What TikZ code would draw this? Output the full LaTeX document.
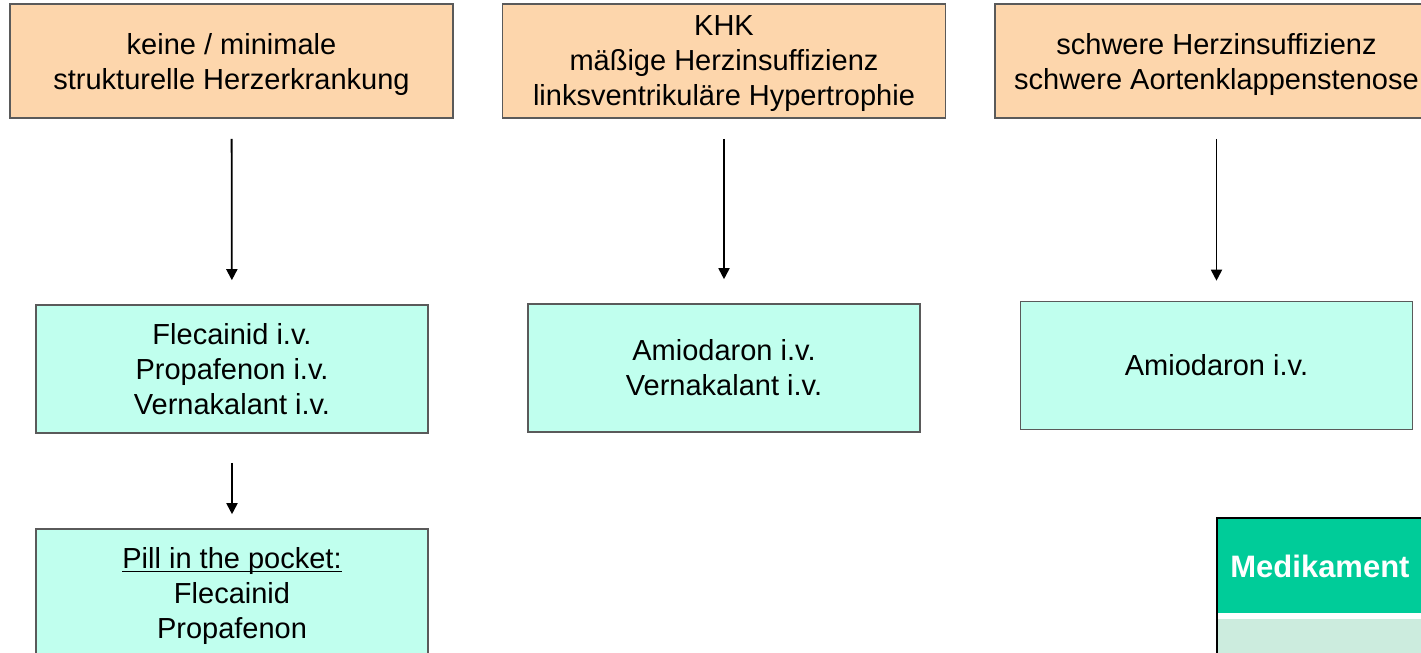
\documentclass[tikz,border=0pt]{standalone}
\usepackage{fontspec}
\setmainfont{Liberation Sans}
\usepackage{tikz}
\usetikzlibrary{arrows.meta,positioning,calc}
\definecolor{peach}{RGB}{253,214,172}
\definecolor{mint}{RGB}{192,255,238}
\definecolor{frame}{RGB}{90,90,90}
\definecolor{medgreen}{RGB}{0,204,153}
\definecolor{medlight}{RGB}{204,236,222}
\newcommand{\pocketline}[1]{\setbox0\hbox{#1}\rlap{\rule[-1.8pt]{\wd0}{0.7pt}}\box0}
\tikzset{
  cnode/.style={rectangle,draw=frame,line width=0.8pt,fill=peach,minimum width=221.5pt,minimum height=57pt,align=center,inner sep=0pt,text depth=0pt,font=\fontsize{14.5}{17.5}\selectfont},
  dnode/.style={rectangle,draw=frame,line width=0.8pt,fill=mint,minimum width=196pt,minimum height=64pt,align=center,inner sep=0pt,font=\fontsize{14.5}{17.5}\selectfont},
  hnode/.style={rectangle,fill=medgreen,text=white,minimum height=47pt,text width=150pt,inner xsep=6pt,inner ysep=0pt,align=left,font=\fontsize{15.5}{18}\selectfont\bfseries},
  rnode/.style={rectangle,fill=medlight,minimum height=40pt,minimum width=162pt,inner sep=0pt},
  de/.style={-{Triangle[length=5.5pt,width=5.5pt]},line width=0.9pt,shorten <=10pt,shorten >=12pt},
  tab/.style={line width=1.2pt}
}
\begin{document}
\begin{tikzpicture}[x=0.5pt,y=-0.5pt]
\useasboundingbox (0,0) rectangle (1421,653);
\clip (0,0) rectangle (1421,653);
\node[cnode] (C1) at (231.5,61) {keine / minimale\\strukturelle Herzerkrankung};
\node[cnode] (C2) at (724,61) {KHK\\mäßige Herzinsuffizienz\\linksventrikuläre Hypertrophie};
\node[cnode] (C3) at (1216.5,61) {schwere Herzinsuffizienz\\schwere Aortenklappenstenose};
\node[dnode] (D1) at (232,369) {Flecainid i.v.\\Propafenon i.v.\\Vernakalant i.v.};
\node[dnode] (D2) at (724,368) {Amiodaron i.v.\\Vernakalant i.v.};
\node[dnode] (D3) at (1216.5,365.5) {Amiodaron i.v.};
\node[dnode,text depth=0pt] (P) at (232,593) {\pocketline{Pill in the pocket:}\\Flecainid\\Propafenon};
\draw[de] (C1) -- (D1);
\draw[de] (C2) -- (D2);
\draw[de,shorten >=10pt] (C3) -- (D3);
\draw[de,shorten <=14.5pt,shorten >=7pt] (D1) -- (P);
\node[hnode,anchor=north west] (H) at (1218,519) {Medikament};
\node[rnode,anchor=north west] (R) at (1218,619) {};
\draw[tab] ($(H.north east)+(0,-1)$) -- ($(H.north west)+(-1,-1)$) -- ($(R.south west)+(-1,0)$);
\end{tikzpicture}
\end{document}
